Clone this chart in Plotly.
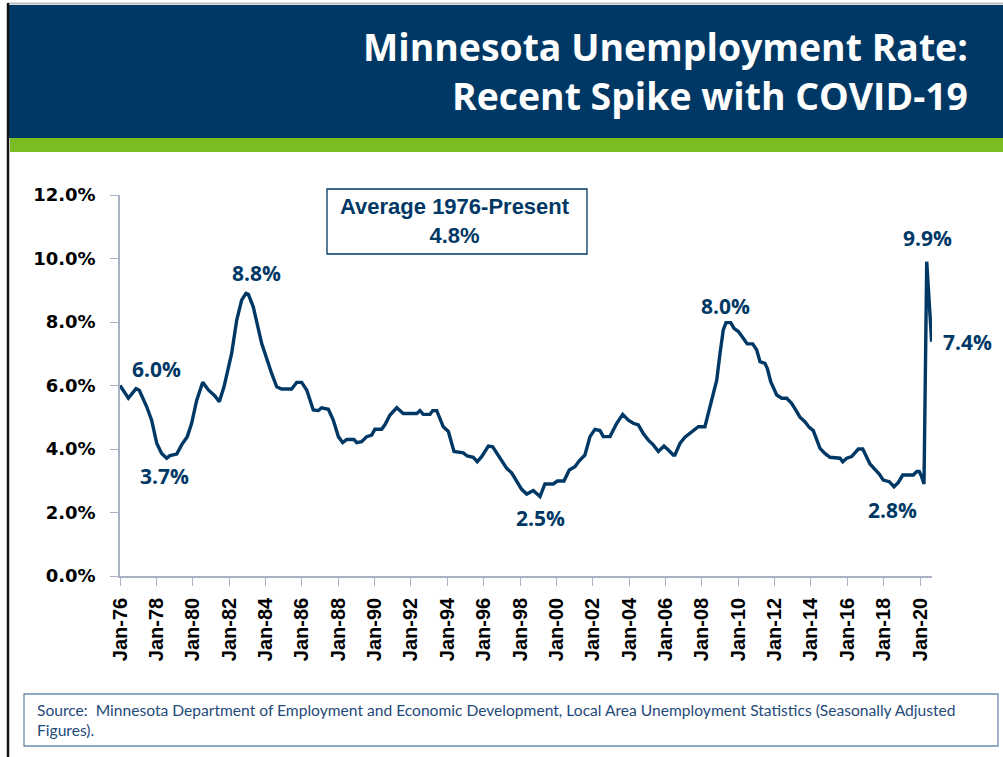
import plotly.graph_objects as go

# ---- data ----
years = [1976.00, 1976.46, 1976.88, 1977.06, 1977.47, 1977.74, 1978.02, 1978.29, 1978.57, 1978.75,
         1979.12, 1979.39, 1979.70, 1979.94, 1980.22, 1980.55, 1980.86, 1981.22, 1981.46, 1981.72,
         1982.14, 1982.42, 1982.69, 1982.93, 1983.06, 1983.33, 1983.79, 1984.07, 1984.34, 1984.62,
         1984.89, 1985.44, 1985.72, 1985.99, 1986.27, 1986.63, 1986.91, 1987.09, 1987.46, 1987.73,
         1988.01, 1988.25, 1988.47, 1988.87, 1989.02, 1989.29, 1989.57, 1989.84, 1990.02, 1990.39,
         1990.57, 1990.85, 1991.22, 1991.58, 1992.32, 1992.50, 1992.68, 1993.05, 1993.20, 1993.42,
         1993.78, 1994.06, 1994.37, 1994.88, 1995.10, 1995.43, 1995.65, 1995.89, 1996.26, 1996.50,
         1996.90, 1997.27, 1997.54, 1997.82, 1998.09, 1998.37, 1998.73, 1999.10, 1999.37, 1999.83,
         2000.05, 2000.42, 2000.71, 2001.02, 2001.26, 2001.57, 2001.85, 2002.12, 2002.40, 2002.58,
         2002.95, 2003.32, 2003.65, 2003.96, 2004.23, 2004.51, 2004.78, 2005.06, 2005.33, 2005.61,
         2005.92, 2006.16, 2006.43, 2006.52, 2006.80, 2007.07, 2007.35, 2007.62, 2007.81, 2008.17,
         2008.41, 2008.63, 2008.82, 2009.00, 2009.18, 2009.33, 2009.59, 2009.77, 2010.01, 2010.28,
         2010.50, 2010.80, 2011.02, 2011.20, 2011.47, 2011.60, 2011.79, 2012.12, 2012.39, 2012.67,
         2012.94, 2013.22, 2013.40, 2013.67, 2013.91, 2014.13, 2014.32, 2014.50, 2014.77, 2015.05,
         2015.60, 2015.75, 2015.97, 2016.24, 2016.42, 2016.61, 2016.85, 2017.07, 2017.25, 2017.52,
         2017.76, 2017.98, 2018.31, 2018.57, 2018.81, 2019.05, 2019.63, 2019.82, 2019.96, 2020.09,
         2020.22, 2020.37, 2020.64]
rate = [6.00, 5.60, 5.90, 5.85, 5.33, 4.91, 4.18, 3.86, 3.71, 3.79,
        3.84, 4.13, 4.39, 4.81, 5.54, 6.10, 5.86, 5.67, 5.49, 5.96,
        7.01, 8.06, 8.69, 8.90, 8.87, 8.48, 7.33, 6.80, 6.38, 5.96,
        5.89, 5.89, 6.10, 6.10, 5.86, 5.23, 5.21, 5.30, 5.25, 4.91,
        4.39, 4.20, 4.30, 4.30, 4.20, 4.23, 4.39, 4.44, 4.62, 4.62,
        4.76, 5.07, 5.30, 5.12, 5.12, 5.21, 5.09, 5.09, 5.21, 5.21,
        4.70, 4.55, 3.92, 3.88, 3.78, 3.74, 3.60, 3.76, 4.09, 4.07,
        3.71, 3.39, 3.25, 2.97, 2.73, 2.58, 2.69, 2.50, 2.90, 2.90,
        2.99, 2.99, 3.34, 3.44, 3.63, 3.81, 4.39, 4.62, 4.58, 4.39,
        4.39, 4.81, 5.09, 4.91, 4.81, 4.76, 4.49, 4.28, 4.13, 3.92,
        4.09, 3.97, 3.81, 3.81, 4.18, 4.37, 4.49, 4.62, 4.70, 4.70,
        5.28, 5.75, 6.17, 7.01, 7.75, 7.98, 7.98, 7.80, 7.70, 7.49,
        7.31, 7.31, 7.12, 6.75, 6.70, 6.54, 6.12, 5.70, 5.60, 5.60,
        5.44, 5.18, 5.00, 4.86, 4.68, 4.58, 4.28, 4.02, 3.86, 3.74,
        3.71, 3.60, 3.71, 3.76, 3.88, 4.00, 4.00, 3.76, 3.53, 3.36,
        3.21, 3.02, 2.97, 2.81, 2.95, 3.18, 3.18, 3.29, 3.29, 3.13,
        2.90, 9.90, 7.38]

tick_years = [1976, 1978, 1980, 1982, 1984, 1986, 1988, 1990, 1992, 1994, 1996, 1998,
              2000, 2002, 2004, 2006, 2008, 2010, 2012, 2014, 2016, 2018, 2020]
tick_labels = ["Jan-76", "Jan-78", "Jan-80", "Jan-82", "Jan-84", "Jan-86", "Jan-88", "Jan-90",
               "Jan-92", "Jan-94", "Jan-96", "Jan-98", "Jan-00", "Jan-02", "Jan-04", "Jan-06",
               "Jan-08", "Jan-10", "Jan-12", "Jan-14", "Jan-16", "Jan-18", "Jan-20"]
y_ticks = [0, 2, 4, 6, 8, 10, 12]
y_tick_labels = ["0.0%", "2.0%", "4.0%", "6.0%", "8.0%", "10.0%", "12.0%"]

callout_labels = ["6.0%", "3.7%", "8.8%", "2.5%", "8.0%", "2.8%", "9.9%", "7.4%"]
callout_px = [(156, 369), (164, 476), (256, 273), (540, 518), (725, 306), (892, 510), (927, 238), (967, 342)]

title_lines = ["Minnesota Unemployment Rate:", "Recent Spike with COVID-19"]
average_text = "Average 1976-Present<br>4.8%"
source_text = ("Source:&nbsp; Minnesota Department of Employment and Economic Development, Local Area "
               "Unemployment Statistics (Seasonally Adjusted<br>Figures).")

# ---- layout geometry ----
W, H = 1003, 757
L, R, T, B = 120, 71, 195, 181
PW, PH = W - L - R, H - T - B


def px(X):
    return (X - L) / PW


def py(Y):
    return (H - B - Y) / PH


NAVY = "#003865"
GREEN = "#7ABD23"
AXIS = "#A9B1C2"

fig = go.Figure()
fig.add_trace(go.Scatter(x=years, y=rate, mode="lines",
                         line=dict(color=NAVY, width=3.4), hoverinfo="skip", showlegend=False))

shapes = [
    dict(type="rect", xref="paper", yref="paper", x0=px(9), x1=px(1003), y0=py(138), y1=py(5),
         fillcolor=NAVY, line=dict(width=0), layer="below"),
    dict(type="rect", xref="paper", yref="paper", x0=px(10), x1=px(1003), y0=py(152), y1=py(138),
         fillcolor=GREEN, line=dict(width=0), layer="below"),
    dict(type="line", xref="paper", yref="paper", x0=px(8), x1=px(1003), y0=py(3.5), y1=py(3.5),
         line=dict(color="#BDBDBD", width=2)),
    dict(type="line", xref="paper", yref="paper", x0=px(8), x1=px(8), y0=py(3), y1=py(757),
         line=dict(color="#111111", width=2.5)),
    dict(type="rect", xref="paper", yref="paper", x0=px(327), x1=px(587), y0=py(254), y1=py(189),
         fillcolor="white", line=dict(color=NAVY, width=1.3), layer="below"),
    dict(type="rect", xref="paper", yref="paper", x0=px(24), x1=px(998), y0=py(746), y1=py(694),
         fillcolor="white", line=dict(color="#6E8CB3", width=1.3), layer="below"),
]

annotations = [
    dict(text=title_lines[0], x=px(970), y=py(46), xanchor="right", yanchor="middle",
         font=dict(family="Open Sans", size=37.4, color="white", weight="bold")),
    dict(text=title_lines[1], x=px(970), y=py(95.5), xanchor="right", yanchor="middle",
         font=dict(family="Open Sans", size=37.4, color="white", weight="bold")),
    dict(text=average_text, x=px(455), y=py(221.5), xanchor="center", yanchor="middle",
         font=dict(family="Liberation Sans", size=22, color=NAVY, weight="bold")),
    dict(text=source_text, x=px(35), y=py(720), xanchor="left", yanchor="middle", align="left",
         font=dict(family="Lato", size=15.6, color="#1F4A7A")),
]
for lab, (X, Y) in zip(callout_labels, callout_px):
    annotations.append(dict(text=lab, x=px(X), y=py(Y), xanchor="center", yanchor="middle",
                            font=dict(family="Open Sans", size=21, color=NAVY, weight="bold")))
for a in annotations:
    a.update(xref="paper", yref="paper", showarrow=False)

fig.update_layout(
    width=W, height=H,
    margin=dict(l=L, r=R, t=T, b=B, pad=0),
    paper_bgcolor="white", plot_bgcolor="white",
    shapes=shapes, annotations=annotations,
    showlegend=False,
    xaxis=dict(range=[1976, 1976 + PW / (800 / 44)], tickmode="array", tickvals=tick_years,
               ticktext=tick_labels, tickangle=-90, ticks="outside", ticklen=8, tickcolor=AXIS,
               tickwidth=1.3, showline=True, linecolor=AXIS, linewidth=1.5, showgrid=False,
               zeroline=False, ticklabelstandoff=4,
               tickfont=dict(family="Liberation Sans", size=20, color="black", weight="bold")),
    yaxis=dict(range=[0, 12], tickmode="array", tickvals=y_ticks, ticktext=y_tick_labels,
               ticks="outside", ticklen=8, tickcolor=AXIS, tickwidth=1.3, showline=True,
               linecolor=AXIS, linewidth=1.5, showgrid=False, zeroline=False,
               ticklabelstandoff=11,
               tickfont=dict(family="DejaVu Sans", size=18, color="black", weight="bold")),
)

fig.write_html("out.html", config={"displayModeBar": False},
               post_script="document.body.style.margin='0';document.body.style.overflow='hidden';")
